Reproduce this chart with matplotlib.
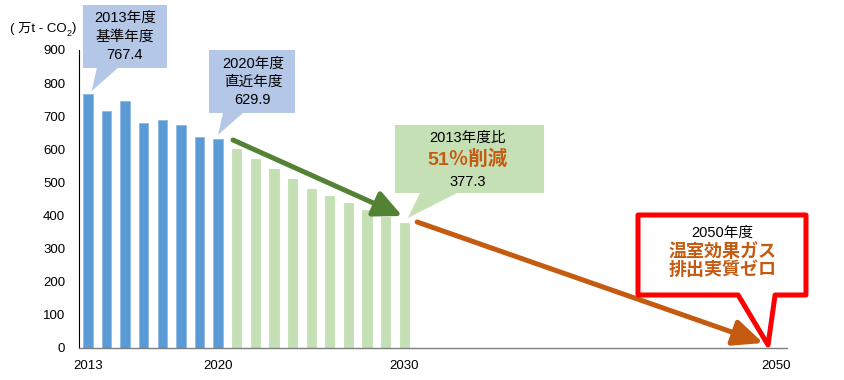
import matplotlib
matplotlib.use("Agg")
import matplotlib.pyplot as plt
from matplotlib.patches import Polygon, FancyArrowPatch, ArrowStyle

plt.rcParams['font.family'] = ['Liberation Sans', 'Noto Sans CJK JP', 'DejaVu Sans']

# ---- data ----
actual_years = [2013, 2014, 2015, 2016, 2017, 2018, 2019, 2020]
actual_values = [767.4, 716, 746, 681, 690, 672, 636, 629.9]
target_years = [2021, 2022, 2023, 2024, 2025, 2026, 2027, 2028, 2029, 2030]
target_values = [601, 571, 541, 511, 481, 459, 438, 417, 396, 377.3]
xtick_years = [2013, 2020, 2030, 2050]
yticks = [0, 100, 200, 300, 400, 500, 600, 700, 800, 900]
unit_label_main = "( 万t - CO"
unit_label_sub = "2"
unit_label_end = ")"
callout1_lines = ["2013年度", "基準年度", "767.4"]
callout2_lines = ["2020年度", "直近年度", "629.9"]
callout3_lines = ["2013年度比", "51％削減", "377.3"]
callout4_lines = ["2050年度", "温室効果ガス\n排出実質ゼロ"]

# ---- styles ----
BLUE = '#5B9BD5'
BLUE_EDGE = '#8FB8E2'
GREEN = '#C5E0B4'
BOX_BLUE = '#B4C7E7'
DARK_GREEN = '#548235'
ORANGE = '#C55A11'
RED = '#FF0000'

fig = plt.figure(figsize=(8.44, 3.80), dpi=100)
ax = fig.add_axes([79/844, 32/380, (787-79)/844, 298/380])

ax.bar(actual_years, actual_values, width=0.5, color=BLUE, edgecolor=BLUE_EDGE, linewidth=0.6, zorder=2)
ax.bar(target_years, target_values, width=0.5, color=GREEN, edgecolor=GREEN, linewidth=0.6, zorder=2)

ax.set_xlim(2012.52, 2050.58)
ax.set_ylim(0, 900)
ax.set_xticks(xtick_years)
ax.set_xticklabels([str(y) for y in xtick_years], fontsize=9.5)
ax.set_yticks(yticks)
ax.set_yticklabels([str(v) for v in yticks], fontsize=9.5)
ax.tick_params(axis='both', length=0)
ax.tick_params(axis='x', pad=8.5)
ax.tick_params(axis='y', pad=10)
for s in ('top', 'right'):
    ax.spines[s].set_visible(False)
ax.spines['left'].set_color('black')
ax.spines['left'].set_linewidth(0.8)
ax.spines['bottom'].set_color('#7F7F7F')
ax.spines['bottom'].set_linewidth(1.0)

# unit label (main text + subscript + closing parenthesis)
t_main = fig.text(0.012, 0.926, unit_label_main, fontsize=9.5, ha='left', va='center')
fig.canvas.draw()
bb = t_main.get_window_extent()
x_sub = bb.x1 / fig.bbox.width
t_sub = fig.text(x_sub, 0.926 - 0.014, unit_label_sub, fontsize=6.5, ha='left', va='center')
fig.canvas.draw()
bb2 = t_sub.get_window_extent()
fig.text(bb2.x1 / fig.bbox.width, 0.926, unit_label_end, fontsize=9.5, ha='left', va='center')


def callout(L, R, T, B, b1, b2, tip, fc, ec=None, lw=0, z=5):
    pts = [(L, T), (R, T), (R, B), (b2, B), tip, (b1, B), (L, B)]
    p = Polygon(pts, closed=True, facecolor=fc, edgecolor=ec if ec else fc,
                linewidth=lw, clip_on=False, zorder=z, joinstyle='round')
    ax.add_patch(p)


def py(pix):
    # layout helper: vertical position in data units from reference pixel row
    return (348 - pix) / (298 / 900)


# callout 1 (2013)
callout(2012.73, 2017.25, py(5), py(68), 2013.48, 2014.61, (2013.2, py(91)), BOX_BLUE)
for i, t in enumerate(callout1_lines):
    ax.text(2014.99, py(18 + i * 18.5), t, fontsize=10.5, ha='center', va='center', zorder=6)

# callout 2 (2020)
callout(2019.51, 2024.13, py(50), py(113), 2020.26, 2021.33, (2019.99, py(135)), BOX_BLUE)
for i, t in enumerate(callout2_lines):
    ax.text(2021.87, py(64 + i * 18), t, fontsize=10.5, ha='center', va='center', zorder=6)

# callout 3 (2030)
callout(2029.5, 2037.52, py(125), py(193), 2030.85, 2032.84, (2030.2, py(218)), GREEN)
ax.text(2033.4, py(138), callout3_lines[0], fontsize=10.5, ha='center', va='center', zorder=6)
ax.text(2033.4, py(159), callout3_lines[1], fontsize=14, fontweight='bold', color=ORANGE,
        ha='center', va='center', zorder=6)
ax.text(2033.4, py(182), callout3_lines[2], fontsize=10.5, ha='center', va='center', zorder=6)

# arrows
green_arrow = FancyArrowPatch((2020.8, py(140)), (2029.9, py(216)),
                              arrowstyle=ArrowStyle('-|>', head_length=17, head_width=8),
                              mutation_scale=1, color=DARK_GREEN, linewidth=3.6,
                              shrinkA=0, shrinkB=0, zorder=7, clip_on=False)
ax.add_patch(green_arrow)
orange_arrow = FancyArrowPatch((2030.7, py(222)), (2049.3, py(343)),
                               arrowstyle=ArrowStyle('-|>', head_length=18, head_width=8),
                               mutation_scale=1, color=ORANGE, linewidth=3.6,
                               shrinkA=0, shrinkB=0, zorder=7, clip_on=False)
ax.add_patch(orange_arrow)

# callout 4 (2050)
callout(2042.57, 2051.6, py(215), py(295), 2047.95, 2049.94, (2049.56, py(345)),
        'white', ec=RED, lw=3.6, z=8)
ax.text(2047.1, py(233), callout4_lines[0], fontsize=10.5, ha='center', va='center', zorder=9)
ax.text(2047.1, py(261), callout4_lines[1], fontsize=13, fontweight='bold', color=ORANGE,
        ha='center', va='center', linespacing=1.05, zorder=9)

fig.savefig('out.png', dpi=100)
